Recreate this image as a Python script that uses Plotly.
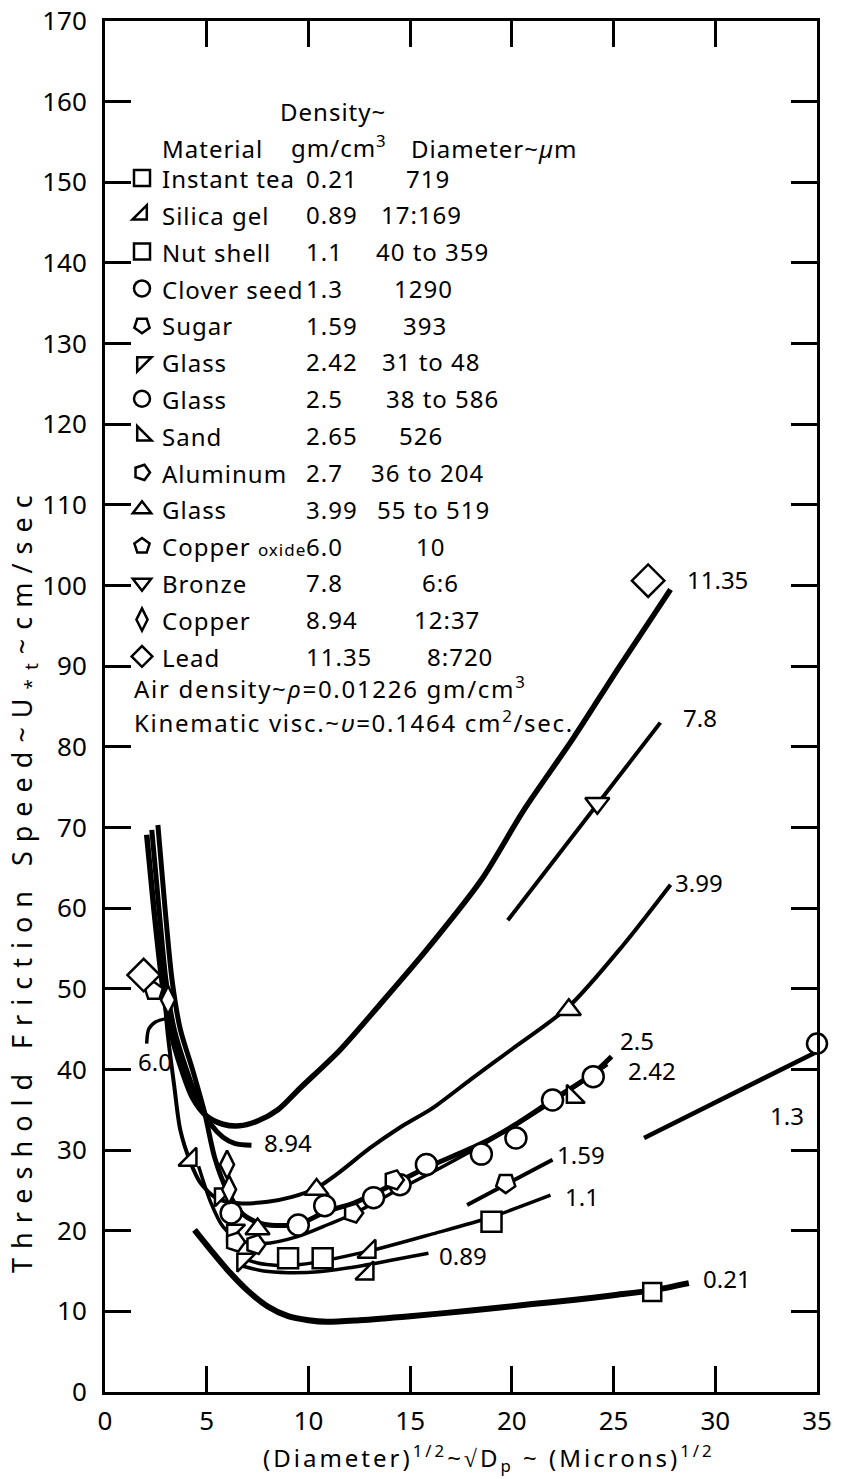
import plotly.graph_objects as go

# ---------------- data: theoretical threshold curves (labelled by particle density) ----------------
c1135_x = [2.05, 2.4, 2.8, 3.2, 3.7, 4.3, 5.0, 5.8, 6.6, 7.5, 8.5, 9.6, 11.55, 13.5, 15.8, 18.5, 20.6, 23.0, 25.3, 27.8]
c1135_y = [69.1, 60.0, 51.0, 45.0, 40.5, 36.5, 34.2, 33.2, 33.0, 33.6, 35.0, 37.7, 42.4, 48.0, 54.8, 63.5, 72.2, 81.0, 90.0, 99.5]

c894_x = [2.3, 2.65, 3.0, 3.4, 4.0, 4.6, 5.2, 5.8, 6.4, 7.2]
c894_y = [69.7, 60.0, 51.0, 45.0, 40.0, 36.0, 33.2, 31.6, 30.8, 30.6]

c78_x = [19.8, 27.3]
c78_y = [58.5, 83.0]

c60_x = [2.05, 2.15, 2.5, 3.0]
c60_y = [43.2, 45.0, 45.9, 46.3]

c399_x = [2.95, 3.1, 3.4, 3.7, 4.2, 4.7, 5.5, 6.6, 8.0, 9.2, 10.4, 11.5, 13.0, 14.5, 16.1, 18.0, 20.0, 22.8, 25.5, 27.8]
c399_y = [48.0, 44.0, 38.0, 32.5, 28.5, 25.9, 24.0, 23.4, 23.6, 24.2, 25.3, 27.2, 30.2, 32.8, 35.2, 38.8, 42.5, 47.8, 55.5, 62.9]

c25_x = [2.6, 2.95, 3.3, 3.7, 4.3, 4.9, 5.4, 6.0, 6.8, 7.8, 9.5, 10.8, 12.3, 14.2, 15.8, 18.5, 20.2, 22.0, 24.0, 24.9]
c25_y = [70.3, 60.0, 51.0, 45.0, 40.0, 34.6, 29.0, 25.0, 22.0, 20.8, 20.8, 22.3, 23.5, 25.8, 27.8, 30.8, 33.2, 36.2, 39.5, 41.6]

c242_x = [4.6, 5.2, 5.8, 6.6, 7.8, 9.5, 11.0, 12.3, 14.2, 16.5, 19.0, 22.0, 24.7]
c242_y = [28.0, 23.5, 20.5, 18.8, 18.4, 19.3, 20.8, 22.2, 24.8, 27.8, 31.3, 36.0, 40.6]

c159_x = [17.8, 22.0]
c159_y = [23.2, 28.8]

c13_x = [26.5, 35.0]
c13_y = [31.5, 42.2]

c11_x = [6.6, 7.5, 8.5, 9.6, 13.0, 16.1, 19.0, 21.9]
c11_y = [16.8, 16.0, 15.7, 15.8, 17.5, 19.6, 21.7, 24.4]

c089_x = [6.8, 7.8, 9.0, 10.5, 12.0, 14.0, 15.9]
c089_y = [15.6, 15.0, 14.8, 14.9, 15.4, 16.3, 17.2]

c021_x = [4.4, 5.2, 6.0, 7.0, 8.0, 9.0, 10.0, 10.9, 12.5, 15.0, 18.0, 21.0, 23.0, 25.0, 26.9, 28.7]
c021_y = [20.1, 17.6, 15.2, 12.6, 10.6, 9.4, 8.9, 8.7, 8.9, 9.4, 10.1, 10.9, 11.4, 12.0, 12.6, 13.5]

curve_names = ["11.35", "8.94", "7.8", "6.0", "3.99", "2.5", "2.42", "1.59", "1.3", "1.1", "0.89", "0.21"]

# ---------------- data: measurements by material ----------------
tea_x, tea_y = [26.9], [12.4]
silica_x, silica_y = [4.2, 12.9, 13.0], [28.8, 14.7, 17.4]
nut_x, nut_y = [9.0, 10.7, 19.0], [16.6, 16.6, 21.1]
clover_x, clover_y = [35.0], [43.2]
sugar_x, sugar_y = [19.7], [25.9]
glass242_x, glass242_y = [5.7, 6.3, 6.8], [24.5, 20.0, 16.4]
glass25_x = [6.2, 9.5, 10.8, 13.2, 14.5, 15.8, 18.5, 20.2, 22.0, 24.0]
glass25_y = [22.2, 20.7, 23.1, 24.1, 25.7, 28.2, 29.5, 31.5, 36.2, 39.1]
sand_x, sand_y = [23.0], [36.6]
alum_x, alum_y = [6.4, 7.4, 12.2, 14.2], [18.6, 18.3, 22.2, 26.3]
glass399_x, glass399_y = [7.5, 10.4, 22.8], [20.2, 25.1, 47.4]
cuox_x, cuox_y = [2.4], [49.7]
bronze_x, bronze_y = [24.2], [73.0]
copper_x, copper_y = [3.1, 6.0, 6.1], [48.6, 28.2, 25.1]
lead_x, lead_y = [1.9, 26.7], [51.7, 100.6]

materials = ["Instant tea", "Silica gel", "Nut shell", "Clover seed", "Sugar", "Glass", "Glass",
             "Sand", "Aluminum", "Glass", "Copper <span style='font-size:17px'>oxide</span>",
             "Bronze", "Copper", "Lead"]
densities = ["0.21", "0.89", "1.1", "1.3", "1.59", "2.42", "2.5", "2.65", "2.7", "3.99", "6.0", "7.8", "8.94", "11.35"]
diameters = ["719", "17:169", "40 to 359", "1290", "393", "31 to 48", "38 to 586", "526",
             "36 to 204", "55 to 519", "10", "6:6", "12:37", "8:720"]

# ---------------- layout helpers (page pixels -> paper) ----------------
W, H = 842, 1479
PL, PR, PT, PB = 105, 817, 21, 1392


def xp(px):
    return (px - PL) / (PR - PL)


def yp(py):
    return (PB - py) / (PB - PT)


def spaced(t, s):
    return "<span style='letter-spacing:%spx'>%s</span>" % (s, t)


FONT = "Noto Sans"
fig = go.Figure()

# curves
curves = [
    (c1135_x, c1135_y, 5.5), (c894_x, c894_y, 5), (c78_x, c78_y, 4), (c60_x, c60_y, 3.5),
    (c399_x, c399_y, 4), (c25_x, c25_y, 5), (c242_x, c242_y, 3.5), (c159_x, c159_y, 4),
    (c13_x, c13_y, 4.5), (c11_x, c11_y, 3.5), (c089_x, c089_y, 3.5), (c021_x, c021_y, 6),
]
for (cx, cy, w), nm in zip(curves, curve_names):
    fig.add_trace(go.Scatter(x=cx, y=cy, mode="lines", name=nm, showlegend=False, hoverinfo="skip",
                             line=dict(color="black", width=w, shape="spline", smoothing=0.8)))

# measured points (legend entries)
pts = [
    (tea_x, tea_y, "square", 18, 0),
    (silica_x, silica_y, "triangle-se", 20, 0),
    (nut_x, nut_y, "square", 20, 0),
    (clover_x, clover_y, "circle", 20, 0),
    (sugar_x, sugar_y, "pentagon", 20, 180),
    (glass242_x, glass242_y, "triangle-nw", 20, 0),
    (glass25_x, glass25_y, "circle", 21, 0),
    (sand_x, sand_y, "triangle-sw", 20, 0),
    (alum_x, alum_y, "pentagon", 20, 90),
    (glass399_x, glass399_y, "triangle-up", 21, 0),
    (cuox_x, cuox_y, "pentagon", 19, 0),
    (bronze_x, bronze_y, "triangle-down", 21, 0),
    (copper_x, copper_y, "diamond-tall", 20, 0),
    (lead_x, lead_y, "diamond", 25, 0),
]
for (mx, my, sym, sz, ang), mat in zip(pts, materials):
    fig.add_trace(go.Scatter(x=mx, y=my, mode="markers", cliponaxis=False,
                             name="<span style='font-size:24px;letter-spacing:1px'>" + mat + "</span>",
                             marker=dict(symbol=sym, size=sz, angle=ang, color="white",
                                         line=dict(color="black", width=2.5))))

# legend rows geometry
LEG_FS = 26
ROW_H = LEG_FS * 1.3 + 3
FIRST_ROW = 178
legend_top = FIRST_ROW - 5 - ROW_H / 2

ann = []
diam_cx = [428, 421, 432, 423, 425, 431, 442, 421, 427, 433, 430, 440, 447, 460]
for i, (d, dia) in enumerate(zip(densities, diameters)):
    ry = yp(FIRST_ROW + i * ROW_H)
    ann.append(dict(x=xp(304), y=ry, xref="paper", yref="paper", text=spaced(d, 1), showarrow=False,
                    xanchor="left", yanchor="middle", font=dict(size=24)))
    ann.append(dict(x=xp(diam_cx[i]), y=ry, xref="paper", yref="paper", text=spaced(dia, 1),
                    showarrow=False, xanchor="center", yanchor="middle", font=dict(size=24)))

headers = [
    ("Density~", 278, 112, 1),
    ("Material", 160, 148, 1),
    ("gm/cm<sup>3</sup>", 289, 147, 1),
    ("Diameter~<i>µ</i>m", 409, 148, 1),
    ("Air density~<i>ρ</i>=0.01226 gm/cm<sup>3</sup>", 132, 687, 1.7),
    ("Kinematic visc.~<i>υ</i>=0.1464 cm<sup>2</sup>/sec.", 132, 721, 1.7),
]
for t, hx, hy, ls in headers:
    ann.append(dict(x=xp(hx), y=yp(hy), xref="paper", yref="paper", text=spaced(t, ls), showarrow=False,
                    xanchor="left", yanchor="middle", font=dict(size=24)))

# curve labels (data coordinates)
label_pos = [(28.5, 100.8), (7.7, 30.9), (28.3, 83.6), (1.5, 41.0), (27.9, 63.2), (25.2, 43.6),
             (25.6, 39.9), (22.1, 29.5), (32.6, 34.3), (22.5, 24.3), (16.3, 16.9), (29.3, 14.1)]
for nm, (lx, ly) in zip(curve_names, label_pos):
    ann.append(dict(x=lx, y=ly, xref="x", yref="y", text=nm, showarrow=False,
                    xanchor="left", yanchor="middle", font=dict(size=24)))

# axis titles
ann.append(dict(x=xp(24), y=yp(880), xref="paper", yref="paper", textangle=-90,
                text=spaced("Threshold Friction Speed~U<sub>*t</sub>~cm/sec", 9),
                showarrow=False, xanchor="center", yanchor="middle", font=dict(size=27)))
ann.append(dict(x=xp(489), y=yp(1458), xref="paper", yref="paper",
                text=spaced("(Diameter)<sup>1/2</sup>~√D<sub>p</sub> ~ (Microns)<sup>1/2</sup>", 3),
                showarrow=False, xanchor="center", yanchor="middle", font=dict(size=24)))

axis_common = dict(showline=True, linecolor="black", linewidth=3, mirror="ticks", ticks="inside",
                   ticklen=26, tickwidth=3, tickcolor="black", showgrid=False, zeroline=False,
                   ticklabeloverflow="allow",
                   tickfont=dict(size=26, family=FONT, color="black"))

fig.update_layout(
    width=W, height=H,
    margin=dict(l=PL, r=W - PR, t=PT, b=H - PB, autoexpand=False),
    paper_bgcolor="white", plot_bgcolor="white",
    font=dict(family=FONT, size=26, color="black"),
    xaxis=dict(range=[0, 35], tick0=0, dtick=5, ticklabelstandoff=4, **axis_common),
    yaxis=dict(range=[0, 170], tick0=0, dtick=10, ticklabelstandoff=10, **axis_common),
    legend=dict(x=xp(122), y=yp(legend_top), xanchor="left", yanchor="top",
                bgcolor="rgba(0,0,0,0)", borderwidth=0, font=dict(size=LEG_FS, family=FONT),
                itemsizing="trace", tracegroupgap=0),
    annotations=ann,
    showlegend=True,
)

fig.write_html("out.html", config={"displayModeBar": False},
               post_script="document.body.style.margin='0';")
